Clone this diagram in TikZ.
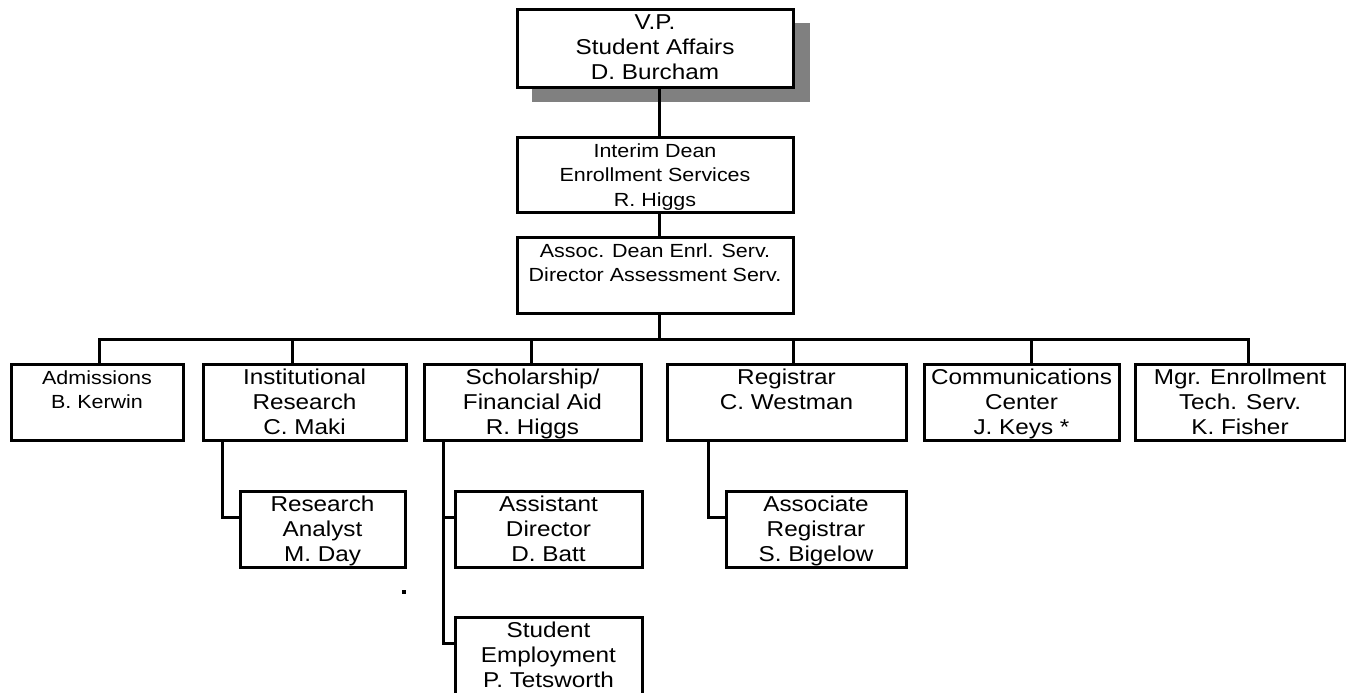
\documentclass[tikz,border=0pt]{standalone}
\usepackage{fontspec}
\setmainfont{Liberation Sans}[FakeStretch=1.13]
\definecolor{shadowgray}{HTML}{808080}
\tikzset{
  orgbox/.style={draw, line width=3pt, fill=white, inner sep=0pt, rectangle},
  conn/.style={line width=3pt},
}
\newcommand\bigtxt{\fontsize{21.5}{25}\selectfont}
\newcommand\smalltxt{\fontsize{19}{24.5}\selectfont}
% name, x1, y1, x2, y2, font, text
\newcommand\orgnode[7]{%
  \node[orgbox] (#1) at ({(#2+#4)/2},{(#3+#5)/2})
   {\parbox[c][\dimexpr #5pt-#3pt\relax][t]{\dimexpr #4pt-#2pt\relax}{\centering #6\rule{0pt}{20pt}#7\par}};}
\begin{document}
\begin{tikzpicture}[x=1pt,y=-1pt]
\useasboundingbox (0,0) rectangle (1346,693);
\begin{scope}
\clip (0,0) rectangle (1346,693);
% shadow
\fill[shadowgray] (532,23) rectangle (810,102);
\orgnode{vp}{517}{10}{793}{87}{\bigtxt}{V.P.\\Student Affairs\\D. Burcham}
\orgnode{dean}{517}{137}{793}{212}{\smalltxt}{Interim Dean\\Enrollment Services\\R. Higgs}
\orgnode{assoc}{517}{237}{793}{313}{\smalltxt}{Assoc. Dean Enrl. Serv.\\Director Assessment Serv.}
\orgnode{adm}{11}{364}{183}{440}{\smalltxt}{Admissions\\B. Kerwin}
\orgnode{inst}{203}{364}{406}{440}{\bigtxt}{Institutional\\Research\\C. Maki}
\orgnode{sch}{424}{364}{641}{440}{\bigtxt}{Scholarship/\\Financial Aid\\R. Higgs}
\orgnode{reg}{667}{364}{906}{440}{\bigtxt}{Registrar\\C. Westman}
\orgnode{comm}{924}{364}{1119}{440}{\bigtxt}{Communications\\Center\\J. Keys *}
\orgnode{mgr}{1135}{364}{1345}{440}{\bigtxt}{Mgr. Enrollment\\Tech. Serv.\\K. Fisher}
\orgnode{ra}{240}{491}{405}{567}{\bigtxt}{Research\\Analyst\\M. Day}
\orgnode{ad}{455}{491}{642}{567}{\bigtxt}{Assistant\\Director\\D. Batt}
\orgnode{se}{455}{617}{642}{699}{\bigtxt}{Student\\Employment\\P. Tetsworth}
\orgnode{ar}{726}{491}{906}{567}{\bigtxt}{Associate\\Registrar\\S. Bigelow}
% connector coordinates
\coordinate (spine) at (659,339);
\coordinate (dA) at (99,339);
\coordinate (dB) at (292,339);
\coordinate (dC) at (531,339);
\coordinate (dD) at (793,339);
\coordinate (dE) at (1031,339);
\coordinate (dF) at (1248,339);
\coordinate (sI) at (222,517);
\coordinate (sS1) at (443,517);
\coordinate (sS2) at (443,643);
\coordinate (sR) at (708,517);
% top chain
\draw[conn] (spine |- vp.south) -- (spine |- dean.north);
\draw[conn] (spine |- dean.south) -- (spine |- assoc.north);
\draw[conn] (spine |- assoc.south) -- (spine);
% bus
\draw[conn] (dA |- adm.north) -- (dA) -- (dF) -- (dF |- mgr.north);
\draw[conn] (dB) -- (dB |- inst.north);
\draw[conn] (dC) -- (dC |- sch.north);
\draw[conn] (dD) -- (dD |- reg.north);
\draw[conn] (dE) -- (dE |- comm.north);
% subtrees
\draw[conn] (sI |- inst.south) -- (sI) -- (sI -| ra.west);
\draw[conn] (sS1 |- sch.south) -- (sS2) -- (sS2 -| se.west);
\draw[conn] (sS1) -- (sS1 -| ad.west);
\draw[conn] (sR |- reg.south) -- (sR) -- (sR -| ar.west);
% stray mark
\fill (402,590) rectangle (406,594);
\end{scope}
\end{tikzpicture}
\end{document}
